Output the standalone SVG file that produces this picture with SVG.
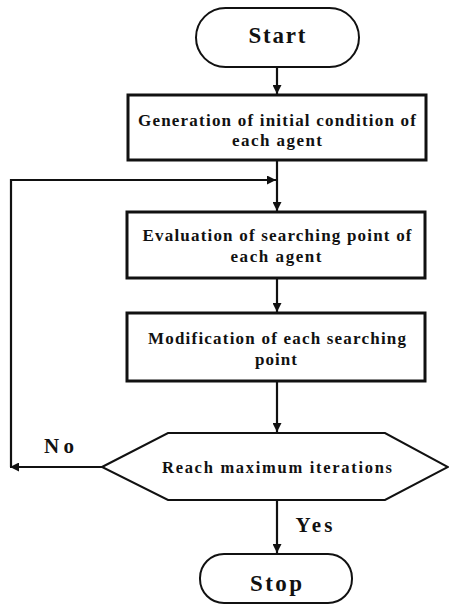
<svg xmlns="http://www.w3.org/2000/svg" width="449" height="604" viewBox="0 0 449 604">
<style>
.t{font-family:"Liberation Serif","Times New Roman",serif;font-weight:bold;fill:#111;text-anchor:middle}
.box{fill:#fff;stroke:#111;stroke-width:3}
.term{fill:#fff;stroke:#111;stroke-width:2}
.ln{fill:none;stroke:#111;stroke-width:2.2}
</style>
<defs>
<marker id="ah" viewBox="0 0 10 10" refX="10" refY="5" markerWidth="10" markerHeight="9" markerUnits="userSpaceOnUse" orient="auto">
<path d="M0,0 L10,5 L0,10 Z" fill="#111"/>
</marker>
</defs>
<rect width="449" height="604" fill="#fff"/>
<g id="connectors">
<line class="ln" x1="277" y1="67" x2="277" y2="94" marker-end="url(#ah)"/>
<line class="ln" x1="277" y1="161" x2="277" y2="211" marker-end="url(#ah)"/>
<polyline class="ln" points="11,467 11,180 276,180" marker-end="url(#ah)"/>
<line class="ln" x1="277" y1="279" x2="277" y2="312" marker-end="url(#ah)"/>
<line class="ln" x1="277" y1="382" x2="277" y2="432" marker-end="url(#ah)"/>
<line class="ln" x1="102" y1="467" x2="10" y2="467" marker-end="url(#ah)"/>
<line class="ln" x1="277" y1="500" x2="277" y2="553" marker-end="url(#ah)"/>
<text class="t" x="59" y="453" font-size="21" textLength="30" lengthAdjust="spacing">No</text>
<text class="t" x="314" y="532" font-size="21" textLength="37" lengthAdjust="spacing">Yes</text>
</g>
<g id="start">
<rect class="term" x="196" y="8" width="163" height="59" rx="29.5"/>
<text class="t" x="277" y="43" font-size="23" textLength="57" lengthAdjust="spacing">Start</text>
</g>
<g id="generation">
<rect class="box" x="128" y="95" width="298" height="65"/>
<text class="t" x="277" y="126" font-size="17" textLength="278" lengthAdjust="spacing">Generation of initial condition of</text>
<text class="t" x="277" y="146" font-size="17" textLength="90" lengthAdjust="spacing">each agent</text>
</g>
<g id="evaluation">
<rect class="box" x="127" y="212" width="298" height="66"/>
<text class="t" x="277" y="241" font-size="17" textLength="269" lengthAdjust="spacing">Evaluation of searching point of</text>
<text class="t" x="276" y="262" font-size="17" textLength="91" lengthAdjust="spacing">each agent</text>
</g>
<g id="modification">
<rect class="box" x="127" y="313" width="298" height="68"/>
<text class="t" x="277" y="344" font-size="17" textLength="258" lengthAdjust="spacing">Modification of each searching</text>
<text class="t" x="276" y="365" font-size="17" textLength="42" lengthAdjust="spacing">point</text>
</g>
<g id="decision">
<polygon fill="#fff" stroke="#111" stroke-width="2" points="102,467 168,433 385,433 448,467 385,500 168,500"/>
<text class="t" x="277" y="473" font-size="16.5" textLength="230" lengthAdjust="spacing">Reach maximum iterations</text>
</g>
<g id="stop">
<rect class="term" x="200" y="554" width="152" height="49" rx="24"/>
<text class="t" x="276" y="591" font-size="23" textLength="52" lengthAdjust="spacing">Stop</text>
</g>
</svg>
